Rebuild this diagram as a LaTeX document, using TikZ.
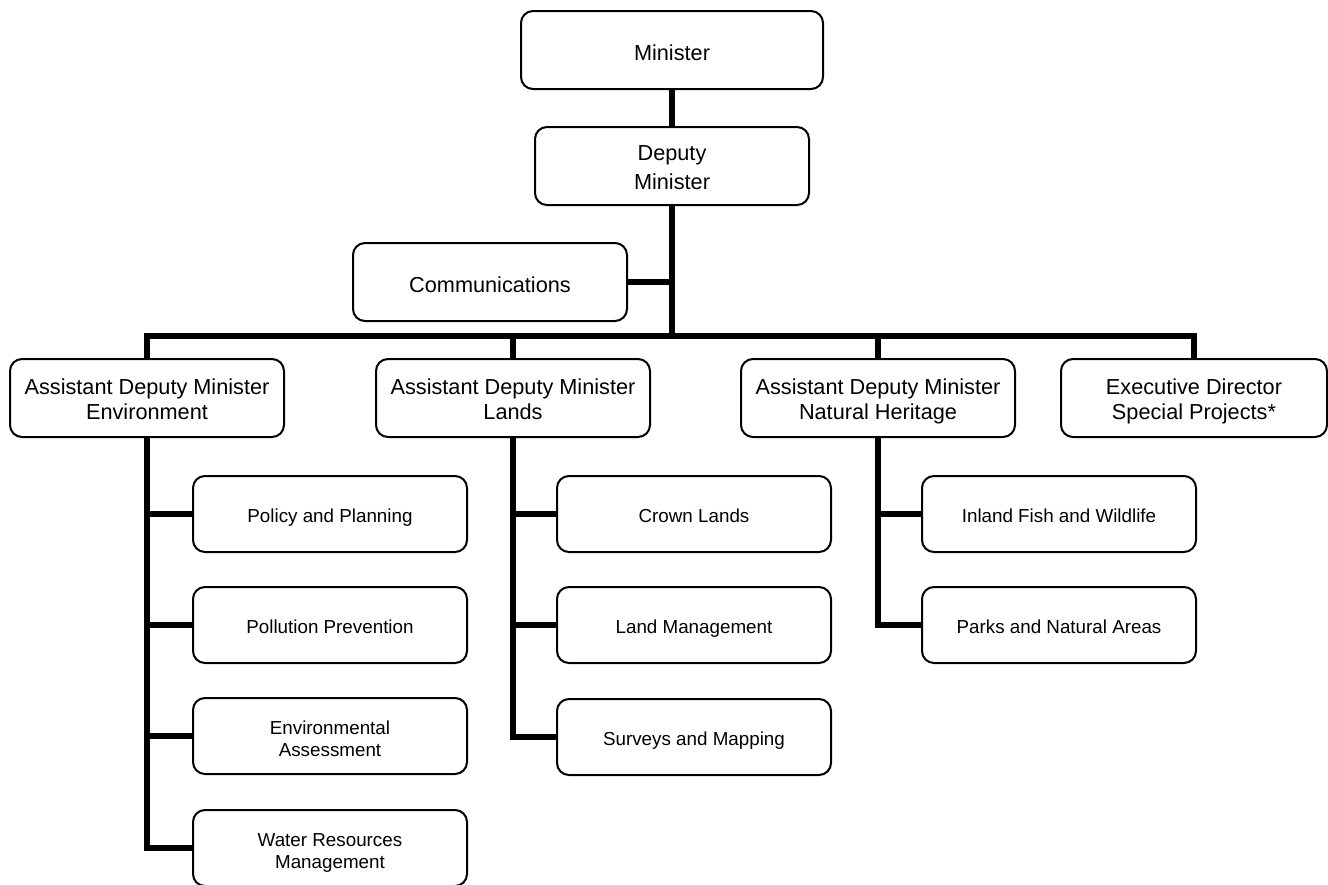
\documentclass[tikz,border=0pt]{standalone}
\usepackage{fontspec}
\setmainfont{Liberation Sans}
\begin{document}
\begin{tikzpicture}[
  x=0.5pt, y=-0.5pt,
  box/.style={draw, line width=1pt, rounded corners=6pt, align=center,
    minimum width=137pt, minimum height=39pt, inner sep=0pt,
    font=\fontsize{10.85}{12.5}\selectfont,
    execute at begin node={\rule{0pt}{1.3em}}, execute at end node=\strut},
  unit/.style={box, minimum height=38pt, font=\fontsize{9.4}{11}\selectfont},
  box2/.style={box, text depth=0pt, text height=21pt},
  unit2/.style={unit, text depth=0pt, text height=20.5pt},
  link/.style={line width=3pt},
]
\useasboundingbox (0,0) rectangle (1328,884);

% Top of the chart
\node[box, minimum width=151pt] (min) at (672,50) {Minister};
\node[box2, font=\fontsize{10.85}{14.5}\selectfont, text height=23pt] (dep) at (672,166) {Deputy\\Minister};
\node[box] (comm) at (490,282) {Communications};
\coordinate (bus) at (672,336);

% Assistant deputy ministers and special projects
\node[box2] (env) at (147,398) {Assistant Deputy Minister\\Environment};
\node[box2] (lands) at (513,398) {Assistant Deputy Minister\\Lands};
\node[box2] (nh) at (878,398) {Assistant Deputy Minister\\Natural Heritage};
\node[box2, minimum width=133pt] (spec) at (1194,398) {Executive Director\\Special Projects*};

% Environment branches
\node[unit] (pol) at (330,514) {Policy and Planning};
\node[unit] (poll) at (330,625) {Pollution Prevention};
\node[unit2] (ea) at (330,736) {Environmental\\Assessment};
\node[unit2] (water) at (330,848) {Water Resources\\Management};

% Lands branches
\node[unit] (crown) at (694,514) {Crown Lands};
\node[unit] (lman) at (694,625) {Land Management};
\node[unit] (surv) at (694,737) {Surveys and Mapping};

% Natural heritage branches
\node[unit] (fish) at (1059,514) {Inland Fish and Wildlife};
\node[unit] (parks) at (1059,625) {Parks and Natural Areas};

% Connectors
\draw[link] (min) -- (dep);
\draw[link] (dep) -- (bus);
\draw[link] (comm.east) -- (comm.east -| bus);
\foreach \n in {env,lands,nh,spec} \draw[link] (\n.north) |- (bus);
\foreach \n in {pol,poll,ea,water} \draw[link] (env.south) |- (\n.west);
\foreach \n in {crown,lman,surv} \draw[link] (lands.south) |- (\n.west);
\foreach \n in {fish,parks} \draw[link] (nh.south) |- (\n.west);

\end{tikzpicture}
\end{document}
